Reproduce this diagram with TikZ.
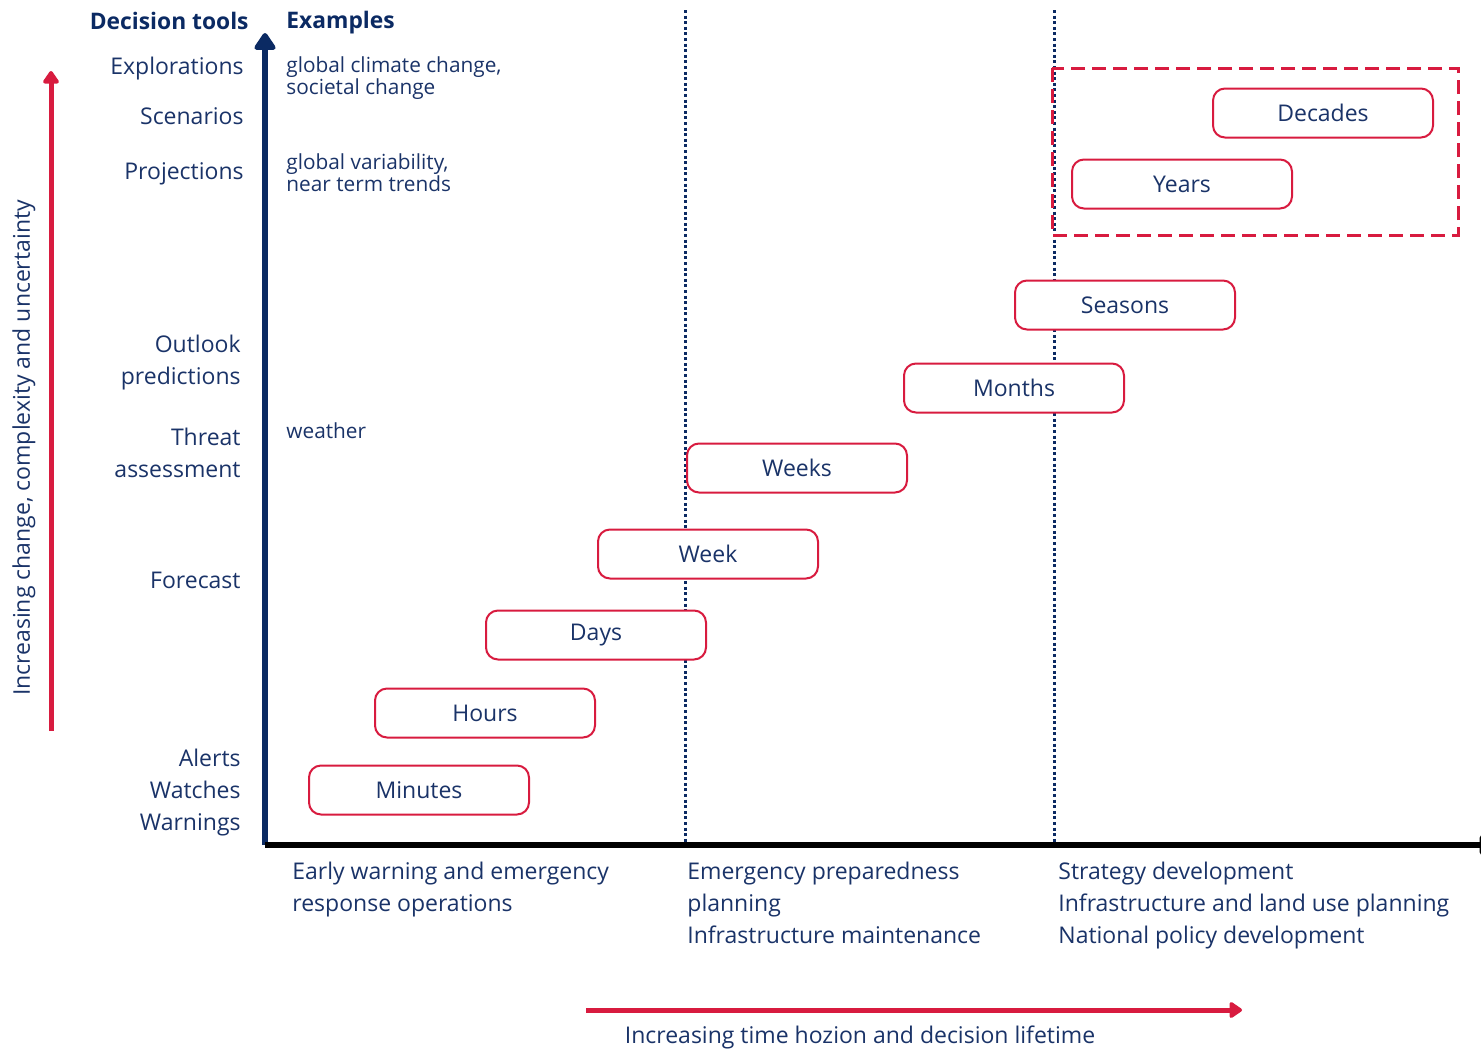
\documentclass[tikz,border=0pt]{standalone}
\usepackage{fontspec}
\setmainfont{Open Sans}
\usetikzlibrary{arrows.meta}
\definecolor{navy}{HTML}{0B2A63}
\definecolor{ink}{HTML}{1A3368}
\definecolor{crimson}{HTML}{D81B3F}
\begin{document}
\begin{tikzpicture}[x=0.5pt,y=-0.5pt,
  txt/.style={text=ink,font=\fontsize{11.5}{16}\selectfont,inner sep=0pt},
  tight/.style={text=ink,font=\fontsize{10.4}{11}\selectfont,inner sep=0pt,align=left},
  head/.style={text=navy,font=\fontsize{11.4}{13}\bfseries\selectfont,inner sep=0pt},
  span/.style={draw=crimson,line width=1pt,rounded corners=6pt,fill=white,
    minimum width=110pt,minimum height=24.5pt,text=ink,
    font=\fontsize{11.5}{12}\selectfont},
  divider/.style={navy,line width=1.5pt,dash pattern=on 1.5pt off 1.3pt}]
\useasboundingbox (0,0) rectangle (1481,1050);

% scale dividers
\coordinate (d1t) at (685,10);  \coordinate (d1b) at (685,845);
\coordinate (d2t) at (1054,10); \coordinate (d2b) at (1054,845);
\draw[divider] (d1t) -- (d1b);
\draw[divider] (d2t) -- (d2b);

% long-range group
\draw[crimson,line width=1.5pt,dash pattern=on 7pt off 3.5pt]
  (1052,68) rectangle (1458,235);

% axes
\coordinate (origin) at (265,845);
\coordinate (ytop) at (265,33);
\coordinate (xend) at (1497,845);
\draw[navy,line width=3pt,-{Triangle[length=9.5pt,width=12pt,round]}] (origin) -- (ytop);
\draw[black,line width=3pt,-{Triangle[length=10pt,width=11pt,round]}] (origin) -- (xend);

% time spans
\node[span] (decades) at (1323,113) {Decades};
\node[span] (years)   at (1182,184) {Years};
\node[span] (seasons) at (1125,305) {Seasons};
\node[span] (months)  at (1014,388) {Months};
\node[span] (weeks)   at (797,468)  {Weeks};
\node[span] (week)    at (708,554)  {Week};
\node[span] (days)    at (596,635)  {Days};
\node[span] (hours)   at (485,713)  {Hours};
\node[span] (minutes) at (419,790)  {Minutes};

% headings
\node[head,anchor=east] (hdtools) at (249,21) {Decision tools};
\node[head,anchor=west] (hdex) at (286,23) {Examples};

% decision tools
\node[txt,anchor=east] (explor) at (244,69) {Explorations};
\node[txt,anchor=east] (scen) at (244,116) {Scenarios};
\node[txt,anchor=east] (proj) at (244,174) {Projections};
\node[txt,anchor=east,align=right] (outlook) at (241,363) {Outlook\\predictions};
\node[txt,anchor=east,align=right] (threat) at (241,453) {Threat\\assessment};
\node[txt,anchor=east] (fcst) at (241,580) {Forecast};
\node[txt,anchor=east,align=right] (alerts) at (241,793) {Alerts\\Watches\\Warnings};

% examples
\node[tight,anchor=west] (ex1) at (286,78) {global climate change,\\societal change};
\node[tight,anchor=west] (ex2) at (286,173) {global variability,\\near term trends};
\node[tight,anchor=west] (ex3) at (286,431) {weather};

% application areas
\node[txt,anchor=north west,align=left] (app1) at (292,862) {Early warning and emergency\\response operations};
\node[txt,anchor=north west,align=left] (app2) at (687,862) {Emergency preparedness\\planning\\Infrastructure maintenance};
\node[txt,anchor=north west,align=left] (app3) at (1058,862) {Strategy development\\Infrastructure and land use planning\\National policy development};

% trend arrows
\coordinate (ub) at (51,731); \coordinate (ut) at (51,71);
\draw[crimson,line width=2.5pt,-{Triangle[length=7pt,width=9pt,round]}] (ub) -- (ut);
\node[txt,rotate=90] (uncert) at (24,448) {Increasing change, complexity and uncertainty};

\coordinate (hl) at (586,1010); \coordinate (hr) at (1242,1010);
\draw[crimson,line width=2.5pt,-{Triangle[length=7pt,width=9pt,round]}] (hl) -- (hr);
\node[txt] (horizon) at (860,1037) {Increasing time hozion and decision lifetime};
\end{tikzpicture}
\end{document}
